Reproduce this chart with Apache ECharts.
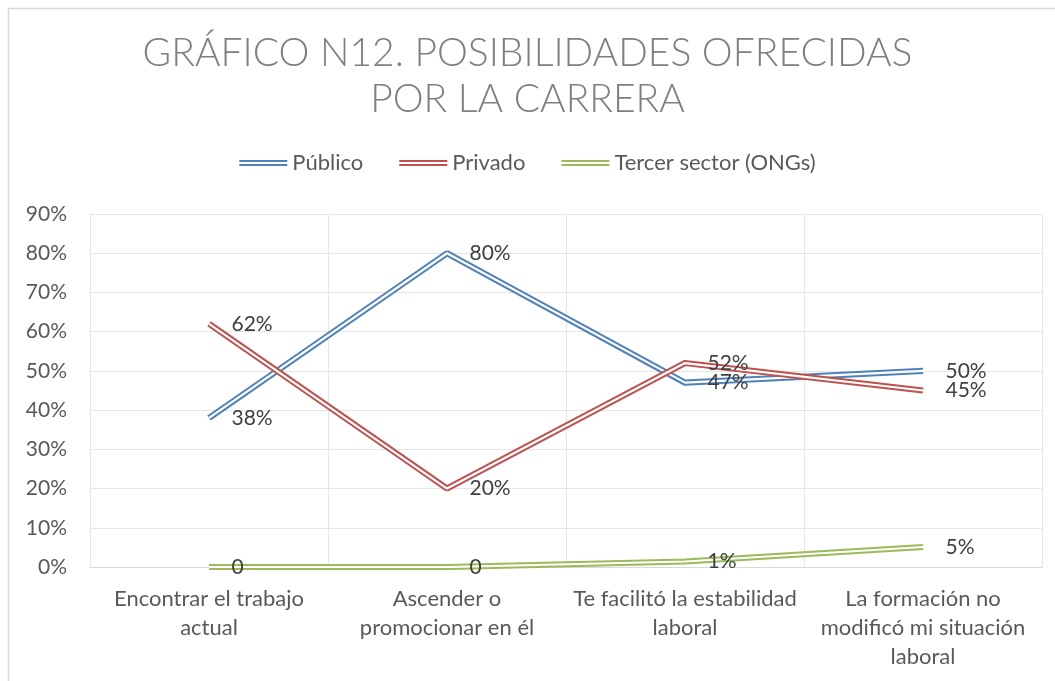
<!DOCTYPE html>
<html><head><meta charset="utf-8">
<script src="https://cdn.jsdelivr.net/npm/echarts@6/dist/echarts.min.js"></script>
<style>html,body{margin:0;padding:0;background:#fff}#c{width:1055px;height:681px}</style>
</head><body><div id="c"></div>
<script>
const categories = ['Encontrar el trabajo\nactual', 'Ascender o\npromocionar en él', 'Te facilitó la estabilidad\nlaboral', 'La formación no\nmodificó mi situación\nlaboral'];
const publico = [38, 80, 47, 50];
const privado = [62, 20, 52, 45];
const tercer = [0, 0, 1.4, 5.1];
const seriesNames = ['Público', 'Privado', 'Tercer sector (ONGs)'];
const colors = ['#4f81bd', '#c0504d', '#9bbb59'];
const yTicks = [0, 10, 20, 30, 40, 50, 60, 70, 80, 90];

const font = 'Lato, "Open Sans", sans-serif';
const dbl = 'path://M0,0H48V2H0Z M0,4H48V6H0Z';
const dataSets = [publico, privado, tercer];
const series = [];
dataSets.forEach((d, i) => {
  series.push({
    name: seriesNames[i], type: 'line', data: d, symbol: 'none', z: 2 + i,
    lineStyle: { color: colors[i], width: 6.2 }, itemStyle: { color: colors[i] }
  });
  series.push({
    name: seriesNames[i] + ' ', type: 'line', data: d, z: 2 + i,
    symbol: 'circle', symbolSize: 1, showSymbol: true,
    itemStyle: { color: 'rgba(255,255,255,0)' },
    lineStyle: { color: '#ffffff', width: 2.2 },
    label: {
      show: true, position: 'right', distance: 22, color: '#404040', fontSize: 21, fontFamily: font,
      formatter: p => p.value === 0 ? '0' : Math.round(p.value) + '%'
    }
  });
});

const chart = echarts.init(document.getElementById('c'), null, { renderer: 'canvas' });
chart.setOption({
  animation: false,
  backgroundColor: '#ffffff',
  title: {
    text: 'GRÁFICO N12. POSIBILIDADES OFRECIDAS\nPOR LA CARRERA',
    left: 'center', top: 25,
    textStyle: { fontFamily: font, fontWeight: 300, fontSize: 39, color: '#7f7f7f', lineHeight: 46 }
  },
  legend: {
    data: seriesNames.map((n, i) => ({ name: n, icon: dbl, itemStyle: { color: colors[i] } })),
    top: 147, left: 'center', itemWidth: 48, itemHeight: 6, itemGap: 36,
    textStyle: { fontFamily: font, fontSize: 22, color: '#595959' }
  },
  grid: { left: 90, right: 13, top: 214, bottom: 114, containLabel: false },
  xAxis: {
    type: 'category', data: categories, boundaryGap: true,
    axisLine: { show: true, lineStyle: { color: '#d9d9d9', width: 1 } },
    axisTick: { show: false },
    splitLine: { show: true, lineStyle: { color: '#e6e6e6', width: 1 } },
    axisLabel: { interval: 0, color: '#595959', fontSize: 22, fontFamily: font, lineHeight: 29, margin: 17 }
  },
  yAxis: {
    type: 'value', min: 0, max: 90, interval: 10,
    axisLine: { show: false }, axisTick: { show: false },
    splitLine: { show: true, lineStyle: { color: '#e6e6e6', width: 1 } },
    axisLabel: { color: '#595959', fontSize: 21, fontFamily: font, formatter: '{value}%', margin: 23 }
  },
  graphic: [{
    type: 'rect', shape: { x: 8.5, y: 8.5, width: 1070, height: 700 },
    style: { fill: 'none', stroke: '#d9d9d9', lineWidth: 1.5 }, silent: true
  }],
  series: series
});
</script></body></html>
